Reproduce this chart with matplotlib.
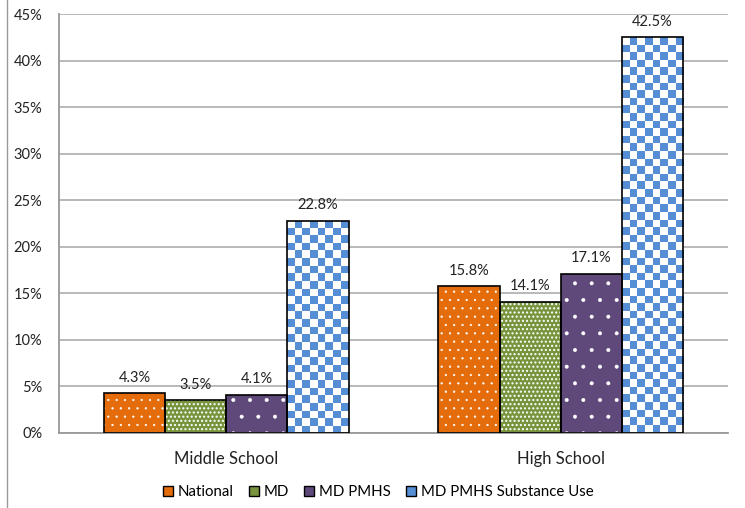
import numpy as np
import matplotlib.pyplot as plt
from matplotlib.colors import ListedColormap
from matplotlib.patches import Patch
from matplotlib.lines import Line2D

plt.rcParams['font.family'] = ['Lato', 'DejaVu Sans']

categories = ["Middle School", "High School"]
series = ["National", "MD", "MD PMHS", "MD PMHS Substance Use"]
national = [4.3, 15.8]
md = [3.5, 14.1]
md_pmhs = [4.1, 17.1]
md_pmhs_su = [22.8, 42.5]
yticks = [0, 5, 10, 15, 20, 25, 30, 35, 40, 45]

colors = ["#E46C0A", "#77933C", "#5F497A", "#558ED5"]
hatches = ["..", "....", ".", None]
hatch_lw = [0.4, 1.0, 0.4, None]

fig = plt.figure(figsize=(7.45, 5.08), dpi=100)
ax = fig.add_axes([59/745, 1-433/508, (728-59)/745, (433-14)/508])

x = np.arange(len(categories))
w = 0.183
values = [national, md, md_pmhs, md_pmhs_su]

for i, (vals, col, h) in enumerate(zip(values, colors, hatches)):
    pos = x + (i - 1.5) * w
    if h is not None:
        with plt.rc_context({'hatch.linewidth': hatch_lw[i]}):
            ax.bar(pos, vals, w, color=col, hatch=h, edgecolor="white", linewidth=0, zorder=2)
    else:
        # checkerboard fill for the last series
        bars = ax.bar(pos, vals, w, color="white", linewidth=0, zorder=2)
        dx = 7.6 * 2 / 669
        dy = 7.6 * 45 / 419
        for b in bars:
            nx = int(np.ceil(b.get_width() / dx))
            ny = int(np.ceil(b.get_height() / dy))
            board = (np.add.outer(np.arange(ny), np.arange(nx)) % 2)
            im = ax.imshow(board, cmap=ListedColormap(["white", col]), interpolation="nearest",
                           extent=[b.get_x(), b.get_x() + nx * dx, b.get_height() - ny * dy, b.get_height()],
                           aspect="auto", zorder=2.5, origin="upper")
            im.set_clip_path(b)
    ax.bar(pos, vals, w, fill=False, edgecolor="black", linewidth=1.2, zorder=3)
    for px, v in zip(pos, vals):
        ax.text(px, v + 0.9, f"{v}%", ha="center", va="bottom", fontsize=10.5, color="#222222")

ax.set_xlim(-0.5, 1.5)
ax.set_ylim(0, 45)
ax.set_yticks(yticks)
ax.set_yticklabels([f"{t}%" for t in yticks])
ax.set_xticks(x)
ax.set_xticklabels(categories)
ax.tick_params(axis="y", length=0, pad=12, labelsize=10.5, labelcolor="#222222")
ax.tick_params(axis="x", length=0, pad=13, labelsize=12, labelcolor="#222222")
ax.yaxis.grid(True, color="#A6A6A6", linewidth=1.1, zorder=0)
ax.set_axisbelow(True)
for s in ["top", "right"]:
    ax.spines[s].set_visible(False)
for s in ["left", "bottom"]:
    ax.spines[s].set_color("#999999")
    ax.spines[s].set_linewidth(1.3)

handles = [Patch(facecolor=c, edgecolor="black", linewidth=1) for c in colors]
fig.legend(handles, series, loc="center", bbox_to_anchor=(378/745, 1-492/508), ncol=4,
           frameon=False, fontsize=10.8, handlelength=0.7, handleheight=0.7,
           handletextpad=0.3, columnspacing=1.0)

fig.add_artist(Line2D([7/745, 7/745], [0, 1], transform=fig.transFigure, color="#999999", linewidth=1))

fig.savefig("out.png", dpi=100)
